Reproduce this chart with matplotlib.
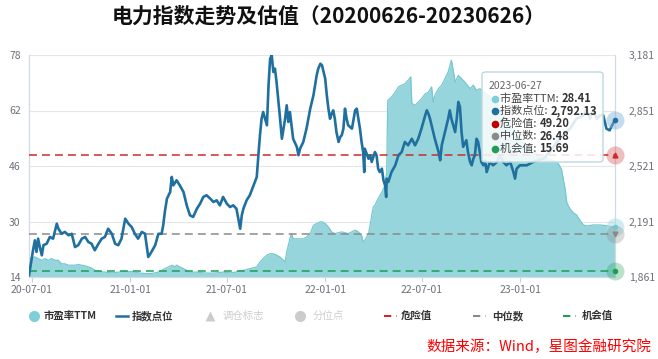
import matplotlib
matplotlib.use("Agg")
import matplotlib.pyplot as plt
import matplotlib.dates as mdates
from matplotlib.lines import Line2D
from matplotlib.patches import FancyBboxPatch
from matplotlib.text import Annotation
from matplotlib.ticker import FuncFormatter
import pandas as pd

plt.rcParams["font.family"] = ["Noto Sans CJK SC", "DejaVu Sans"]

TITLE = "电力指数走势及估值（20200626-20230626）"
SOURCE = "数据来源：Wind，星图金融研究院"

# 市盈率TTM（左轴）
pe_dates = [
    "2020-06-26", "2020-07-07", "2020-07-13", "2020-07-20", "2020-07-26", "2020-08-01", "2020-08-07", "2020-08-14", "2020-08-20", "2020-08-26",
    "2020-09-01", "2020-09-08", "2020-09-20", "2020-09-26", "2020-10-09", "2020-10-15", "2020-10-21", "2020-10-27", "2020-11-03", "2020-11-15",
    "2020-11-28", "2020-12-10", "2020-12-23", "2021-01-04", "2021-01-16", "2021-01-29", "2021-02-10", "2021-02-23", "2021-03-01", "2021-03-07",
    "2021-03-14", "2021-03-20", "2021-03-26", "2021-03-29", "2021-04-04", "2021-04-11", "2021-04-23", "2021-05-06", "2021-05-18", "2021-05-31",
    "2021-06-12", "2021-06-24", "2021-07-07", "2021-07-19", "2021-08-01", "2021-08-13", "2021-08-26", "2021-09-01", "2021-09-07", "2021-09-14",
    "2021-09-20", "2021-09-26", "2021-10-02", "2021-10-08", "2021-10-15", "2021-10-18", "2021-10-21", "2021-10-24", "2021-10-27", "2021-10-30",
    "2021-11-02", "2021-11-09", "2021-11-21", "2021-11-27", "2021-12-04", "2021-12-10", "2021-12-16", "2021-12-23", "2021-12-26", "2022-01-01",
    "2022-01-07", "2022-01-13", "2022-01-19", "2022-02-01", "2022-02-13", "2022-02-26", "2022-03-04", "2022-03-10", "2022-03-13", "2022-03-16",
    "2022-03-23", "2022-03-26", "2022-03-29", "2022-04-01", "2022-04-04", "2022-04-10", "2022-04-17", "2022-04-23", "2022-04-26", "2022-04-28",
    "2022-05-05", "2022-05-12", "2022-05-18", "2022-05-24", "2022-05-30", "2022-06-05", "2022-06-10", "2022-06-12", "2022-06-18", "2022-06-24",
    "2022-06-30", "2022-07-07", "2022-07-13", "2022-07-19", "2022-07-22", "2022-07-25", "2022-08-01", "2022-08-07", "2022-08-13", "2022-08-19",
    "2022-08-25", "2022-08-29", "2022-09-01", "2022-09-07", "2022-09-13", "2022-09-19", "2022-09-29", "2022-10-05", "2022-10-11", "2022-10-17",
    "2022-11-05", "2022-11-24", "2022-12-13", "2022-12-31", "2023-01-19", "2023-02-07", "2023-02-25", "2023-03-12", "2023-03-19", "2023-03-26",
    "2023-03-29", "2023-04-04", "2023-04-10", "2023-04-16", "2023-04-22", "2023-04-29", "2023-05-06", "2023-05-17", "2023-05-30", "2023-06-11",
    "2023-06-17", "2023-06-27",
]
pe_values = [
    19.3, 19.8, 19.3, 18.8, 19.3, 18.8, 19.3, 18.8, 18.8, 17.8,
    17.8, 17.4, 17.4, 17.6, 17.2, 16.9, 16.6, 15.9, 15.6, 15.4,
    15.2, 15.4, 15.6, 15.6, 15.2, 15.0, 15.0, 15.4, 15.9, 16.4,
    16.9, 17.4, 16.9, 17.4, 16.9, 16.4, 15.4, 15.4, 15.2, 15.1,
    15.2, 15.4, 15.2, 15.4, 15.9, 16.4, 16.9, 18.3, 19.3, 20.3,
    20.7, 20.7, 20.3, 19.8, 18.8, 18.3, 21.2, 23.1, 25.0, 26.5,
    25.0, 25.0, 25.0, 25.5, 26.5, 28.9, 29.4, 29.9, 29.9, 29.4,
    28.4, 27.0, 26.5, 27.0, 26.5, 27.5, 27.0, 26.0, 24.1, 24.6,
    26.5, 28.9, 31.8, 34.2, 34.7, 36.6, 38.5, 40.4, 44.3, 64.9,
    65.9, 67.3, 68.8, 69.3, 69.7, 70.7, 71.7, 64.0, 63.5, 64.4,
    65.4, 66.8, 67.3, 68.8, 64.4, 66.4, 68.3, 69.3, 71.2, 73.1,
    76.5, 73.1, 70.2, 72.1, 71.2, 70.2, 68.3, 69.3, 67.8, 68.3,
    66.0, 63.0, 58.0, 54.0, 51.0, 49.0, 48.0, 47.0, 45.0, 39.0,
    35.3, 33.6, 32.5, 31.9, 30.4, 29.0, 28.7, 29.0, 29.0, 28.8,
    28.6, 28.41,
]

# 指数点位（右轴）
index_dates = [
    "2020-06-26", "2020-07-04", "2020-07-07", "2020-07-10", "2020-07-13", "2020-07-17", "2020-07-20", "2020-07-23", "2020-07-29", "2020-08-04",
    "2020-08-10", "2020-08-17", "2020-08-20", "2020-08-26", "2020-09-01", "2020-09-08", "2020-09-14", "2020-09-20", "2020-09-26", "2020-10-03",
    "2020-10-09", "2020-10-15", "2020-10-21", "2020-10-27", "2020-11-03", "2020-11-09", "2020-11-15", "2020-11-21", "2020-11-28", "2020-12-04",
    "2020-12-10", "2020-12-16", "2020-12-23", "2020-12-29", "2021-01-04", "2021-01-10", "2021-01-16", "2021-01-23", "2021-01-29", "2021-02-04",
    "2021-02-10", "2021-02-17", "2021-02-23", "2021-03-01", "2021-03-04", "2021-03-07", "2021-03-11", "2021-03-14", "2021-03-17", "2021-03-20",
    "2021-03-23", "2021-03-29", "2021-04-04", "2021-04-11", "2021-04-17", "2021-04-23", "2021-04-29", "2021-05-06", "2021-05-12", "2021-05-18",
    "2021-05-24", "2021-05-31", "2021-06-06", "2021-06-12", "2021-06-18", "2021-06-24", "2021-07-01", "2021-07-07", "2021-07-13", "2021-07-19",
    "2021-07-26", "2021-07-29", "2021-08-01", "2021-08-07", "2021-08-13", "2021-08-20", "2021-08-26", "2021-08-29", "2021-09-01", "2021-09-04",
    "2021-09-07", "2021-09-14", "2021-09-17", "2021-09-20", "2021-09-23", "2021-09-26", "2021-09-29", "2021-10-02", "2021-10-08", "2021-10-12",
    "2021-10-15", "2021-10-18", "2021-10-21", "2021-10-24", "2021-10-27", "2021-11-02", "2021-11-09", "2021-11-12", "2021-11-15", "2021-11-21",
    "2021-11-27", "2021-12-04", "2021-12-10", "2021-12-16", "2021-12-19", "2021-12-23", "2021-12-26", "2021-12-29", "2022-01-01", "2022-01-04",
    "2022-01-07", "2022-01-10", "2022-01-13", "2022-01-16", "2022-01-19", "2022-01-22", "2022-01-26", "2022-01-29", "2022-02-01", "2022-02-04",
    "2022-02-07", "2022-02-10", "2022-02-13", "2022-02-20", "2022-02-26", "2022-03-01", "2022-03-04", "2022-03-07", "2022-03-10", "2022-03-13",
    "2022-03-15", "2022-03-16", "2022-03-23", "2022-03-26", "2022-03-29", "2022-04-04", "2022-04-07", "2022-04-10", "2022-04-13", "2022-04-17",
    "2022-04-20", "2022-04-23", "2022-04-25", "2022-04-26", "2022-04-29", "2022-05-05", "2022-05-12", "2022-05-18", "2022-05-24", "2022-05-30",
    "2022-06-05", "2022-06-12", "2022-06-18", "2022-06-24", "2022-06-30", "2022-07-07", "2022-07-10", "2022-07-13", "2022-07-16", "2022-07-19",
    "2022-07-22", "2022-07-25", "2022-08-01", "2022-08-04", "2022-08-07", "2022-08-13", "2022-08-19", "2022-08-22", "2022-08-25", "2022-09-01",
    "2022-09-04", "2022-09-07", "2022-09-10", "2022-09-13", "2022-09-16", "2022-09-19", "2022-09-22", "2022-09-25", "2022-09-29", "2022-10-02",
    "2022-10-05", "2022-10-08", "2022-10-11", "2022-10-14", "2022-10-17", "2022-10-20", "2022-10-24", "2022-10-27", "2022-10-30", "2022-11-02",
    "2022-11-05", "2022-11-11", "2022-11-18", "2022-11-24", "2022-11-30", "2022-12-06", "2022-12-13", "2022-12-19", "2022-12-22", "2022-12-25",
    "2022-12-31", "2023-01-13", "2023-01-25", "2023-02-13", "2023-02-25", "2023-03-10", "2023-03-22", "2023-04-04", "2023-04-16", "2023-04-29",
    "2023-05-05", "2023-05-11", "2023-05-17", "2023-05-24", "2023-05-30", "2023-06-05", "2023-06-11", "2023-06-17", "2023-06-23", "2023-06-27",
]
index_values = [
    1871, 2029, 2079, 2010, 2089, 2029, 1990, 2050, 2059, 2099,
    2089, 2178, 2148, 2118, 2129, 2109, 2118, 2039, 2050, 2089,
    2099, 2069, 2059, 2020, 2059, 2089, 2099, 2148, 2118, 2059,
    2050, 2089, 2208, 2178, 2158, 2118, 2089, 2129, 2118, 1980,
    2010, 2050, 2118, 2118, 2168, 2247, 2327, 2347, 2366, 2456,
    2406, 2436, 2406, 2366, 2287, 2228, 2218, 2267, 2297, 2337,
    2347, 2327, 2307, 2317, 2287, 2337, 2297, 2277, 2287, 2267,
    2148, 2228, 2267, 2317, 2347, 2406, 2456, 2585, 2704, 2802,
    2842, 2763, 3001, 3159, 3179, 3080, 3100, 3020, 2822, 2683,
    2743, 2802, 2882, 2783, 2842, 2683, 2634, 2585, 2624, 2664,
    2743, 2862, 2941, 3060, 3100, 3129, 3120, 3080, 3040, 2941,
    2862, 2802, 2832, 2852, 2802, 2723, 2664, 2693, 2704, 2743,
    2862, 2802, 2763, 2743, 2852, 2862, 2802, 2743, 2664, 2604,
    2485, 2624, 2564, 2585, 2545, 2604, 2585, 2505, 2485, 2505,
    2436, 2406, 2337, 2446, 2426, 2485, 2525, 2585, 2604, 2664,
    2644, 2683, 2644, 2683, 2743, 2822, 2852, 2832, 2802, 2763,
    2723, 2683, 2604, 2555, 2644, 2723, 2802, 2852, 2802, 2723,
    2802, 2902, 2872, 2723, 2635, 2654, 2674, 2604, 2545, 2525,
    2564, 2585, 2683, 2664, 2604, 2545, 2525, 2555, 2485, 2515,
    2545, 2525, 2545, 2585, 2545, 2525, 2545, 2485, 2446, 2505,
    2525, 2525, 2545, 2564, 2604, 2664, 2704, 2743, 2802, 2822,
    2862, 2802, 2852, 2802, 2822, 2822, 2743, 2733, 2772, 2792.13,
]

danger_value = 49.20
median_value = 26.48
chance_value = 15.69

left_ticks = [14, 30, 46, 62, 78]
right_ticks = [1861, 2191, 2521, 2851, 3181]
x_tick_dates = ["2020-07-01", "2021-01-01", "2021-07-01", "2022-01-01", "2022-07-01", "2023-01-01"]

PE_FILL = "#96d5dc"
PE_EDGE = "#77c7d0"
INDEX_C = "#20709f"
DANGER_C = "#cc2b2b"
MEDIAN_C = "#8a8a8a"
CHANCE_C = "#1f9d55"
TICK_C = "#6e7079"

W, H = 658, 359


def fx(px):
    return px / W


def fy(py):
    return 1 - py / H


pe_d = pd.to_datetime(pe_dates)
idx_d = pd.to_datetime(index_dates)
start, end = idx_d[0], idx_d[-1]

fig = plt.figure(figsize=(W / 100, H / 100), dpi=100)
ax = fig.add_axes([fx(29), fy(277), (615 - 29) / W, (277 - 55) / H])

# 市盈率面积
ax.fill_between(pe_d, left_ticks[0], pe_values, color=PE_FILL, lw=0, zorder=1)
ax.plot(pe_d, pe_values, color=PE_EDGE, lw=0.9, zorder=2)

# 危险值 / 中位数 / 机会值
dash = (0, (5.2, 3.3))
for val, col in [(danger_value, DANGER_C), (median_value, MEDIAN_C), (chance_value, CHANCE_C)]:
    ax.hlines(val, start, end, colors=col, linestyles=dash, lw=1.1, zorder=3)

ax.set_xlim(start, end)
ax.set_ylim(left_ticks[0], left_ticks[-1])
ax.set_yticks(left_ticks)
ax.grid(axis="y", color="#e6e6e6", lw=0.8, zorder=0)
ax.set_axisbelow(True)
ax.set_xticks(pd.to_datetime(x_tick_dates))
ax.xaxis.set_major_formatter(mdates.DateFormatter("%y-%m-%d"))
ax.tick_params(axis="y", length=0, colors=TICK_C, labelsize=7.5, pad=6)
ax.tick_params(axis="x", length=3.5, width=0.8, color="#c8ceda", labelcolor=TICK_C, labelsize=7.5, pad=2)
for side in ["left", "bottom", "right"]:
    ax.spines[side].set_color("#d4dae4")
    ax.spines[side].set_linewidth(0.9)
ax.spines["top"].set_visible(False)

# 指数点位
ax2 = ax.twinx()
ax2.plot(idx_d, index_values, color=INDEX_C, lw=1.9, zorder=4)
ax2.set_ylim(right_ticks[0], right_ticks[-1])
ax2.set_yticks(right_ticks)
ax2.yaxis.set_major_formatter(FuncFormatter(lambda v, p: f"{v:,.0f}"))
ax2.tick_params(axis="y", length=0, colors=TICK_C, labelsize=7.5, pad=10)
for s in ax2.spines.values():
    s.set_visible(False)

# 末端标记
ax.plot([end], [danger_value], "o", ms=13, color=DANGER_C, alpha=0.3, mec="none", clip_on=False, zorder=5)
ax.plot([end], [danger_value], "^", ms=3.5, color=DANGER_C, clip_on=False, zorder=6)
ax.plot([end], [pe_values[-1]], "o", ms=13, color="#a9dfe4", alpha=0.55, mec="none", clip_on=False, zorder=5)
ax.plot([end], [pe_values[-1]], "o", ms=3, color=PE_EDGE, clip_on=False, zorder=6)
ax.plot([end], [median_value], "o", ms=13, color=MEDIAN_C, alpha=0.3, mec="none", clip_on=False, zorder=5)
ax.plot([end], [median_value], "v", ms=3.5, color=MEDIAN_C, clip_on=False, zorder=6)
ax.plot([end], [chance_value], "o", ms=13, color=CHANCE_C, alpha=0.3, mec="none", clip_on=False, zorder=5)
ax.plot([end], [chance_value], "o", ms=3, color=CHANCE_C, clip_on=False, zorder=6)
ax2.plot([end], [index_values[-1]], "o", ms=13, color="#7fb3d5", alpha=0.45, mec="none", clip_on=False, zorder=5)
ax2.plot([end], [index_values[-1]], "o", ms=3, color=INDEX_C, clip_on=False, zorder=6)

# 标题与来源
fig.text(0.5, fy(16), TITLE, ha="center", va="center", fontsize=15, fontweight="bold", color="#111111")
fig.text(fx(651), fy(347), SOURCE, ha="right", va="center", fontsize=10.5, color="#ff0000")

# 提示框
box = FancyBboxPatch((fx(482), fy(162)), fx(603) - fx(482), fy(72) - fy(162),
                     boxstyle="round,pad=0,rounding_size=0.006", transform=fig.transFigure,
                     facecolor=(1, 1, 1, 0.86), edgecolor="#bcd9de", lw=1.0, zorder=10)
fig.add_artist(box)
fig.text(fx(488.5), fy(86), end.strftime("%Y-%m-%d"), ha="left", va="center", fontsize=7.5, color="#666666", zorder=11)
tip_rows = [
    ("市盈率TTM: ", f"{pe_values[-1]:.2f}", "#7fcfd8"),
    ("指数点位: ", f"{index_values[-1]:,.2f}", INDEX_C),
    ("危险值: ", f"{danger_value:.2f}", "#c00000"),
    ("中位数: ", f"{median_value:.2f}", MEDIAN_C),
    ("机会值: ", f"{chance_value:.2f}", CHANCE_C),
]
for i, (lab, val, col) in enumerate(tip_rows):
    y = 98.5 + i * 12.5
    fig.add_artist(Line2D([fx(495)], [fy(y)], marker="o", ms=5.5, color=col, mec="none",
                          transform=fig.transFigure, zorder=11))
    t = fig.text(fx(500.5), fy(y), lab, ha="left", va="center", fontsize=8, color="#444444", zorder=11)
    a = Annotation(val, xy=(1, 0.5), xycoords=t, ha="left", va="center", fontsize=8,
                   fontweight="bold", color="#333333", annotation_clip=False)
    a.set_zorder(11)
    fig.add_artist(a)

# 图例
legend_items = [
    ("circle", "#7fcfd8", "市盈率TTM", 34, 44, True),
    ("line", INDEX_C, "指数点位", 116, 132, True),
    ("triangle", "#cccccc", "调仓标志", 210, 223, False),
    ("circle", "#cccccc", "分位点", 300, 313, False),
    ("dash", DANGER_C, "危险值", 384, 401, True),
    ("dash", MEDIAN_C, "中位数", 473, 492, True),
    ("dash", CHANCE_C, "机会值", 563, 582, True),
]
ly = 316
for kind, col, name, x0, xt, active in legend_items:
    if kind == "circle":
        fig.add_artist(Line2D([fx(x0)], [fy(ly)], marker="o", ms=8, color=col, mec="none", transform=fig.transFigure))
    elif kind == "triangle":
        fig.add_artist(Line2D([fx(x0)], [fy(ly)], marker="^", ms=7, color=col, mec="none", transform=fig.transFigure))
    elif kind == "line":
        fig.add_artist(Line2D([fx(x0), fx(x0 + 12)], [fy(ly), fy(ly)], lw=1.8, color=col, transform=fig.transFigure))
    else:
        fig.add_artist(Line2D([fx(x0), fx(x0 + 13)], [fy(ly), fy(ly)], lw=1.5, color=col,
                              linestyle=(0, (3.5, 2.5)), transform=fig.transFigure))
    fig.text(fx(xt), fy(ly), name, ha="left", va="center", fontsize=7.5,
             fontweight="bold" if active else "normal", color="#333333" if active else "#cccccc")

fig.savefig("out.png", dpi=100)
